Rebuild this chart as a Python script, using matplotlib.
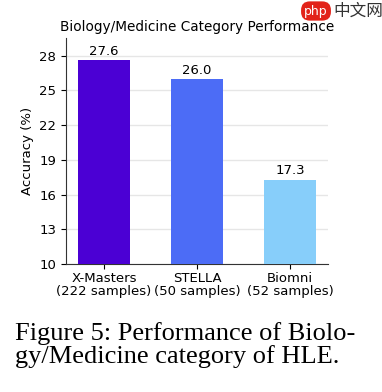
import matplotlib.pyplot as plt

# data
models = ['X-Masters\n(222 samples)', 'STELLA\n(50 samples)', 'Biomni\n(52 samples)']
accuracy = [27.6, 26.0, 17.3]
yticks = [10, 13, 16, 19, 22, 25, 28]
colors = ['#4B00D4', '#4C6CF6', '#87CEFA']

fig = plt.figure(figsize=(3.82, 3.92), dpi=100)
ax = fig.add_axes([66/382, 1-264/392, 262/382, 226/392])

bars = ax.bar(range(len(models)), accuracy, width=0.56, color=colors, zorder=3)
for b, v in zip(bars, accuracy):
    ax.text(b.get_x() + b.get_width()/2, v + 0.2, f'{v:.1f}', ha='center', va='bottom', fontsize=9.5)

ax.set_ylim(10, max(accuracy) * 1.07)
ax.set_yticks(yticks)
ax.set_xticks(range(len(models)))
ax.set_xticklabels(models, fontsize=9.5, linespacing=1.0)
ax.tick_params(axis='y', labelsize=9.5)
ax.tick_params(axis='x', pad=2)
ax.set_ylabel('Accuracy (%)', fontsize=9.5, labelpad=4)
ax.set_title('Biology/Medicine Category Performance', fontsize=9.8, pad=5)
ax.grid(axis='y', color='#e6e6e6', linewidth=1, zorder=0)
ax.spines['top'].set_visible(False)
ax.spines['right'].set_visible(False)
ax.spines['left'].set_color('#333333')
ax.spines['bottom'].set_color('#333333')

# caption below the chart
fig.text(15/382, 1-363/392, 'Figure 5: Performance of Biolo-\ngy/Medicine category of HLE.',
         family=['Liberation Serif', 'DejaVu Serif'], fontsize=19, ha='left', va='baseline',
         linespacing=1.02)

# watermark
fig.text(316/382, 1-11/392, 'php', color='white', fontsize=9, ha='center', va='center',
         bbox=dict(boxstyle='round,pad=0.25,rounding_size=0.7', fc='#e2231a', ec='none'))
fig.text(333/382, 1-11/392, '中文网', color='#333333', fontsize=12, ha='left', va='center',
         family=['Noto Sans CJK SC', 'DejaVu Sans'])

fig.savefig('out.png', dpi=100)
